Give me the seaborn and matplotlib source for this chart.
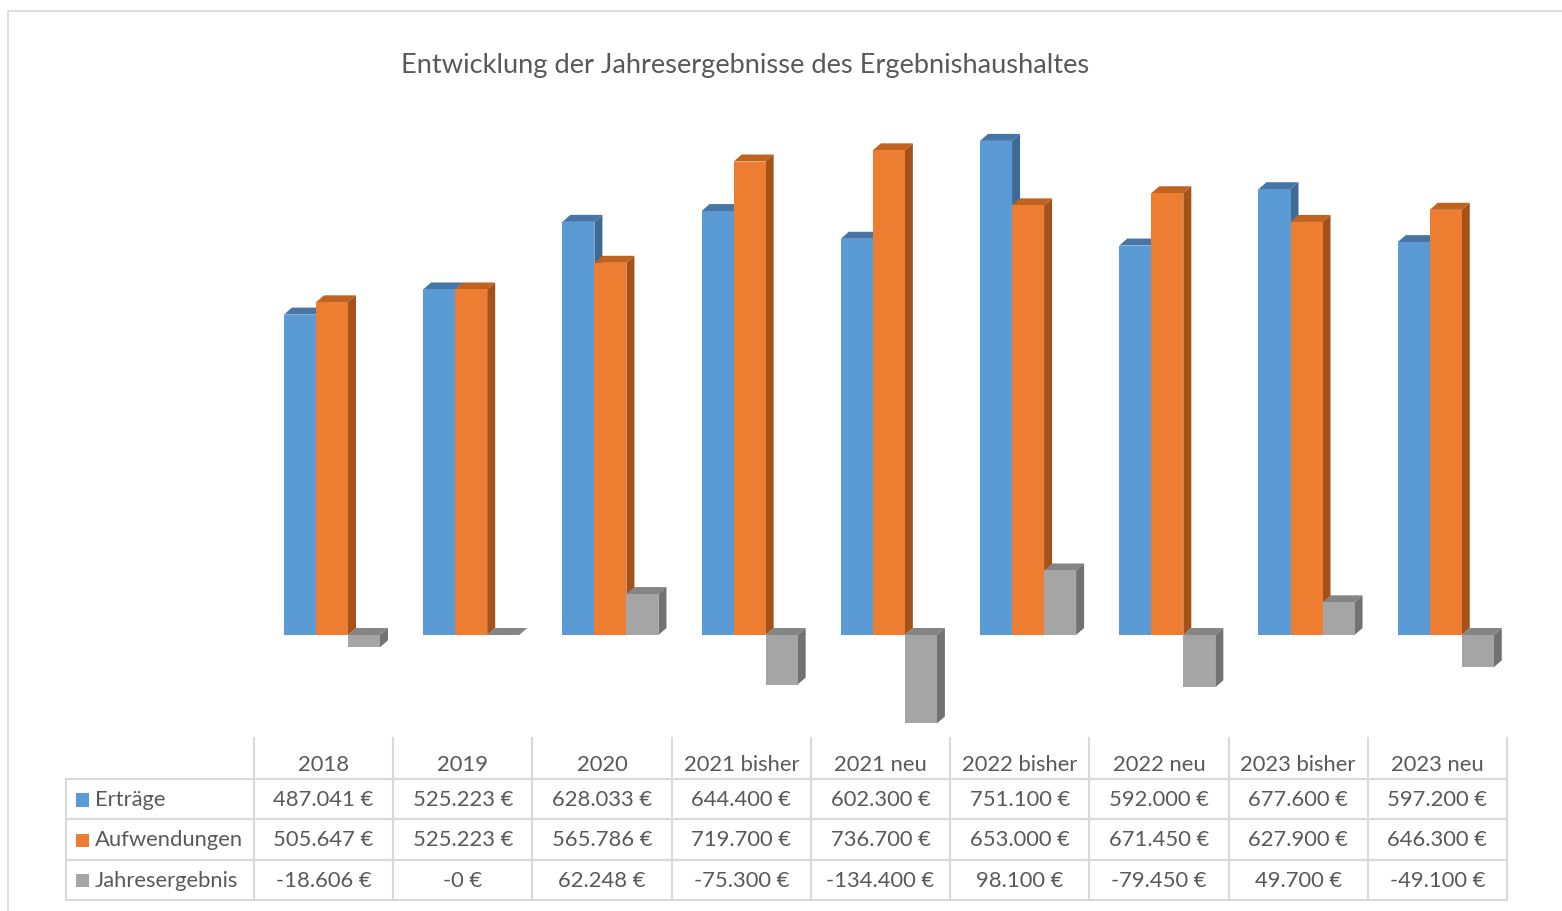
import matplotlib
matplotlib.use("Agg")
import matplotlib.pyplot as plt
import seaborn as sns
import pandas as pd
from matplotlib.patches import Polygon, Rectangle
from matplotlib.table import Table

jahre = ["2018", "2019", "2020", "2021 bisher", "2021 neu", "2022 bisher", "2022 neu", "2023 bisher", "2023 neu"]
ertraege = [487041, 525223, 628033, 644400, 602300, 751100, 592000, 677600, 597200]
aufwendungen = [505647, 525223, 565786, 719700, 736700, 653000, 671450, 627900, 646300]
jahresergebnis = [-18606, -0.0, 62248, -75300, -134400, 98100, -79450, 49700, -49100]

serien = ["Erträge", "Aufwendungen", "Jahresergebnis"]
front = {"Erträge": "#5B9BD5", "Aufwendungen": "#ED7D31", "Jahresergebnis": "#A5A5A5"}
top_col = {"Erträge": "#4776A6", "Aufwendungen": "#C0631F", "Jahresergebnis": "#858585"}
side_col = {"Erträge": "#3E6A96", "Aufwendungen": "#A4511A", "Jahresergebnis": "#727272"}
text_grey = "#595959"
line_grey = "#D9D9D9"

sns.set_style("white")
plt.rcParams["font.family"] = ["Lato", "DejaVu Sans"]

rows = []
for serie, werte in zip(serien, [ertraege, aufwendungen, jahresergebnis]):
    for jahr, wert in zip(jahre, werte):
        rows.append({"Jahr": jahr, "Serie": serie, "Wert": wert})
df = pd.DataFrame(rows)

fig = plt.figure(figsize=(15.62, 9.12), dpi=100)
W, H = 1562, 912

# chart area, aligned with table columns
ax = fig.add_axes([254 / W, 1 - 737 / H, (1507 - 254) / W, (737 - 102) / H])
sns.barplot(data=df, x="Jahr", y="Wert", hue="Serie", order=jahre, hue_order=serien,
            palette=front, width=0.69, saturation=1, linewidth=0, legend=False, ax=ax, zorder=3)
ax.set_xlim(-0.56, 8.44)
ax.set_ylim(-153500, 811700)
ax.set_axis_off()

# pseudo 3D faces
x0, y0 = ax.transData.transform((0, 0))
dx, dy = ax.transData.inverted().transform((x0 + 8, y0 + 7))
for serie, cont in zip(serien, ax.containers):
    for bar in cont:
        x, w = bar.get_x(), bar.get_width()
        h = bar.get_height()
        b, t = min(0, h), max(0, h)
        ax.add_patch(Polygon([(x, t), (x + w, t), (x + w + dx, t + dy), (x + dx, t + dy)],
                             closed=True, facecolor=top_col[serie], edgecolor="none", zorder=1))
        ax.add_patch(Polygon([(x + w, b), (x + w + dx, b + dy), (x + w + dx, t + dy), (x + w, t)],
                             closed=True, facecolor=side_col[serie], edgecolor="none", zorder=1))

fig.text(745 / W, 1 - 65 / H, "Entwicklung der Jahresergebnisse des Ergebnishaushaltes",
         ha="center", va="center", fontsize=19.6, color=text_grey)


def euro(v):
    return f"{v:,.0f}".replace(",", ".") + " €"


# data table
tax = fig.add_axes([66 / W, 1 - 901 / H, (1507 - 66) / W, (901 - 738) / H])
tax.set_axis_off()
tbl = Table(tax, bbox=[0, 0, 1, 1])
total_w = 1507 - 66
label_w = 188 / total_w
col_w = (1 - label_w) / len(jahre)
head_h = 42 / 163
row_h = (1 - head_h) / 3

c = tbl.add_cell(0, 0, label_w, head_h, text="")
c.visible_edges = "open"
for j, jahr in enumerate(jahre):
    c = tbl.add_cell(0, j + 1, col_w, head_h, text="", loc="center")
    c.visible_edges = "LRB"
    # header labels sit low in their cells
    tax.text(label_w + (j + 0.5) * col_w, 1 - 27 / 163, jahr, ha="center", va="center",
             fontsize=15.8, color=text_grey, transform=tax.transAxes)
for i, (serie, werte) in enumerate(zip(serien, [ertraege, aufwendungen, jahresergebnis])):
    c = tbl.add_cell(i + 1, 0, label_w, row_h, text=serie, loc="left")
    c.PAD = 0.155
    for j, wert in enumerate(werte):
        tbl.add_cell(i + 1, j + 1, col_w, row_h, text=euro(wert), loc="center")
    tax.add_patch(Rectangle((10 / total_w, 1 - head_h - (i + 0.5) * row_h - 0.045), 13 / total_w, 0.08,
                            facecolor=front[serie], edgecolor="none", transform=tax.transAxes, zorder=5))

tbl.auto_set_font_size(False)
tbl.set_fontsize(15.8)
for cell in tbl.get_celld().values():
    cell.set_edgecolor(line_grey)
    cell.set_linewidth(1.5)
    cell.set_facecolor("none")
    cell.get_text().set_color(text_grey)
    cell.get_text().set_y(cell.get_text().get_position()[1])
tax.add_table(tbl)

fig.patches.append(Rectangle((8 / W, -0.01), 1.1, 1 - 12 / H + 0.01, transform=fig.transFigure,
                             fill=False, edgecolor=line_grey, linewidth=1.2))

fig.savefig("out.png", dpi=100, facecolor="white")
